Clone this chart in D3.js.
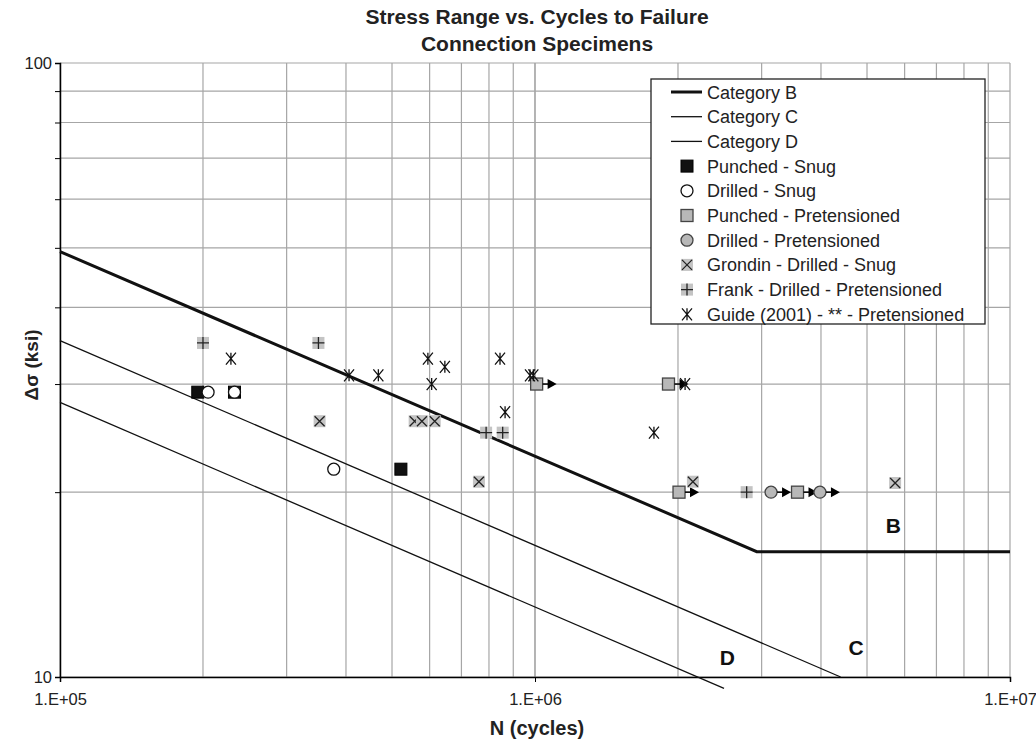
<!DOCTYPE html>
<html><head><meta charset="utf-8">
<script src="https://cdn.jsdelivr.net/npm/d3@7"></script>
<style>body{margin:0;background:#fff;} svg{display:block;} text{font-family:Arial,"Liberation Sans",sans-serif;}</style>
</head><body><svg id="c" width="1036" height="742"></svg>
<script>
// ---- data ----
const catB_N = [1e5, 2.93e6, 1e7], catB_S = [49.3, 16, 16];
const catC_N = [1e5, 4.4e6], catC_S = [35.3, 10];
const catD_N = [1e5, 2.5e6], catD_S = [28.0, 9.58];

const punchedSnugN = [1.95e5, 2.33e5, 5.22e5], punchedSnugS = [29.1, 29.1, 21.8];
const drilledSnugN = [2.05e5, 2.33e5, 3.77e5], drilledSnugS = [29.1, 29.1, 21.8];
const punchedPretN = [1.008e6, 1.91e6, 2.01e6, 3.57e6], punchedPretS = [30, 30, 20, 20], punchedPretRunout = [true, true, true, true];
const drilledPretN = [3.14e6, 3.98e6], drilledPretS = [20, 20], drilledPretRunout = [true, true];
const grondinN = [3.52e5, 5.58e5, 5.78e5, 6.15e5, 7.62e5, 2.15e6, 5.73e6], grondinS = [26.1, 26.1, 26.1, 26.1, 20.8, 20.8, 20.7];
const frankN = [2.0e5, 3.5e5, 7.89e5, 8.55e5, 2.79e6], frankS = [35, 35, 25, 25, 20];
const guideN = [2.29e5, 4.06e5, 4.68e5, 5.95e5, 6.46e5, 6.06e5, 8.44e5, 8.65e5, 9.76e5, 9.92e5, 1.78e6, 2.07e6];
const guideS = [33, 31, 31, 33, 32, 30, 33, 27, 31, 31, 25, 30];

const xTickVals = [1e5, 1e6, 1e7], xTickLabels = ["1.E+05", "1.E+06", "1.E+07"];
const yTickVals = [10, 100], yTickLabels = ["10", "100"];
const legendNames = ["Category B", "Category C", "Category D", "Punched - Snug", "Drilled - Snug",
  "Punched - Pretensioned", "Drilled - Pretensioned", "Grondin - Drilled - Snug",
  "Frank - Drilled - Pretensioned", "Guide (2001) - ** - Pretensioned"];
const categoryLabels = ["B", "C", "D"], categoryLabelN = [5.68e6, 4.74e6, 2.54e6], categoryLabelS = [17.16, 10.86, 10.46];

// ---- drawing ----
const svg = d3.select("#c");
const x = d3.scaleLog().domain([1e5, 1e7]).range([60, 1010]);
const y = d3.scaleLog().domain([10, 100]).range([677, 63]);
const GRID = "#a6a6a6", GRAY = "#b8b8b8";

// grid
const xGrid = [];
for (let d = 1e5; d < 1e7; d *= 10) for (let k = 1; k <= 10; k++) xGrid.push(d * k);
const yGrid = d3.range(10, 101, 10);
svg.append("g").selectAll("line").data(xGrid).join("line")
  .attr("x1", d => x(d)).attr("x2", d => x(d)).attr("y1", y(100)).attr("y2", y(10))
  .attr("stroke", GRID).attr("stroke-width", 1.2);
svg.append("g").selectAll("line").data(yGrid).join("line")
  .attr("x1", x(1e5)).attr("x2", x(1e7)).attr("y1", d => y(d)).attr("y2", d => y(d))
  .attr("stroke", GRID).attr("stroke-width", 1.2);

// axes
const xAxis = d3.axisBottom(x).tickValues(xTickVals).tickFormat((d, i) => xTickLabels[i]).tickSize(5).tickPadding(11);
const gx = svg.append("g").attr("transform", `translate(0,${y(10)})`).call(xAxis);
const yAxis = d3.axisLeft(y).tickValues(yGrid).tickFormat(d => { const i = yTickVals.indexOf(d); return i >= 0 ? yTickLabels[i] : ""; }).tickSize(5).tickPadding(3);
const gy = svg.append("g").attr("transform", `translate(${x(1e5)},0)`).call(yAxis);
[gx, gy].forEach(g => {
  g.select(".domain").attr("stroke", "#000").attr("stroke-width", 1.5);
  g.selectAll(".tick line").attr("stroke", "#000");
  g.selectAll(".tick text").attr("font-size", 16.5).attr("fill", "#222").attr("font-family", "Arial, Liberation Sans, sans-serif");
});

// category lines
const line = d3.line().x(d => x(d[0])).y(d => y(d[1]));
const lines = [[catB_N, catB_S, 3], [catC_N, catC_S, 1.3], [catD_N, catD_S, 1.3]];
lines.forEach(([N, S, w]) => {
  svg.append("path").attr("d", line(N.map((n, i) => [n, S[i]])))
    .attr("fill", "none").attr("stroke", "#111").attr("stroke-width", w);
});
// category labels
svg.append("g").selectAll("text").data(categoryLabels).join("text")
  .attr("x", (d, i) => x(categoryLabelN[i])).attr("y", (d, i) => y(categoryLabelS[i]))
  .attr("text-anchor", "middle").attr("font-size", 21).attr("font-weight", "bold").attr("fill", "#111").text(d => d);

// marker drawing
function marker(g, type, cx, cy) {
  if (type === "punchedSnug") {
    g.append("rect").attr("x", cx - 6).attr("y", cy - 6).attr("width", 12).attr("height", 12).attr("fill", "#111").attr("stroke", "#000");
  } else if (type === "drilledSnug") {
    g.append("circle").attr("cx", cx).attr("cy", cy).attr("r", 6).attr("fill", "#fff").attr("stroke", "#111").attr("stroke-width", 1.3);
  } else if (type === "punchedPret") {
    g.append("rect").attr("x", cx - 6).attr("y", cy - 6).attr("width", 12).attr("height", 12).attr("fill", GRAY).attr("stroke", "#444").attr("stroke-width", 1.3);
  } else if (type === "drilledPret") {
    g.append("circle").attr("cx", cx).attr("cy", cy).attr("r", 6).attr("fill", GRAY).attr("stroke", "#444").attr("stroke-width", 1.3);
  } else if (type === "grondin") {
    g.append("rect").attr("x", cx - 6).attr("y", cy - 6).attr("width", 12).attr("height", 12).attr("fill", "#c4c4c4");
    g.append("path").attr("d", `M${cx-5},${cy-5}L${cx+5},${cy+5}M${cx-5},${cy+5}L${cx+5},${cy-5}`).attr("stroke", "#222").attr("stroke-width", 1.3);
  } else if (type === "frank") {
    g.append("rect").attr("x", cx - 6).attr("y", cy - 6).attr("width", 12).attr("height", 12).attr("fill", "#c4c4c4");
    g.append("path").attr("d", `M${cx-6},${cy}L${cx+6},${cy}M${cx},${cy-6}L${cx},${cy+6}`).attr("stroke", "#222").attr("stroke-width", 1.3);
  } else if (type === "guide") {
    g.append("path").attr("d", `M${cx-5},${cy-6}L${cx+5},${cy+6}M${cx-5},${cy+6}L${cx+5},${cy-6}M${cx},${cy-6}L${cx},${cy+6}`).attr("stroke", "#111").attr("stroke-width", 1.3);
  }
}
function arrow(g, cx, cy) {
  g.append("line").attr("x1", cx + 6).attr("x2", cx + 12).attr("y1", cy).attr("y2", cy).attr("stroke", "#000").attr("stroke-width", 1.5);
  g.append("path").attr("d", `M${cx+11},${cy-5}L${cx+20},${cy}L${cx+11},${cy+5}Z`).attr("fill", "#000");
}
const series = [
  ["punchedSnug", punchedSnugN, punchedSnugS, null],
  ["drilledSnug", drilledSnugN, drilledSnugS, null],
  ["punchedPret", punchedPretN, punchedPretS, punchedPretRunout],
  ["drilledPret", drilledPretN, drilledPretS, drilledPretRunout],
  ["grondin", grondinN, grondinS, null],
  ["frank", frankN, frankS, null],
  ["guide", guideN, guideS, null]
];
const mg = svg.append("g");
series.forEach(([t, N, S, R]) => {
  N.forEach((n, i) => {
    marker(mg, t, x(n), y(S[i]));
    if (R && R[i]) arrow(mg, x(n), y(S[i]));
  });
});

// legend
const lg = svg.append("g");
lg.append("rect").attr("x", 651).attr("y", 79).attr("width", 334).attr("height", 245).attr("fill", "#fff").attr("stroke", "#222").attr("stroke-width", 1.3);
const types = [null, null, null, "punchedSnug", "drilledSnug", "punchedPret", "drilledPret", "grondin", "frank", "guide"];
const lw = [3, 1.3, 1.3];
legendNames.forEach((name, i) => {
  const cy = 92 + i * 24.7;
  if (i < 3) lg.append("line").attr("x1", 671).attr("x2", 702).attr("y1", cy).attr("y2", cy).attr("stroke", "#111").attr("stroke-width", lw[i]);
  else marker(lg, types[i], 687, cy);
  lg.append("text").attr("x", 707).attr("y", cy + 6.5).attr("font-size", 18).attr("fill", "#222").text(name);
});

// titles
svg.append("text").attr("x", 537).attr("y", 24).attr("text-anchor", "middle").attr("font-size", 21).attr("font-weight", "bold").attr("fill", "#222").text("Stress Range vs. Cycles to Failure");
svg.append("text").attr("x", 537).attr("y", 51).attr("text-anchor", "middle").attr("font-size", 21).attr("font-weight", "bold").attr("fill", "#222").text("Connection Specimens");
svg.append("text").attr("x", 537).attr("y", 735).attr("text-anchor", "middle").attr("font-size", 20).attr("font-weight", "bold").attr("fill", "#222").text("N (cycles)");
svg.append("text").attr("transform", "translate(38,365) rotate(-90)").attr("text-anchor", "middle").attr("font-size", 19).attr("font-weight", "bold").attr("fill", "#222").text("Δσ (ksi)");
</script></body></html>
